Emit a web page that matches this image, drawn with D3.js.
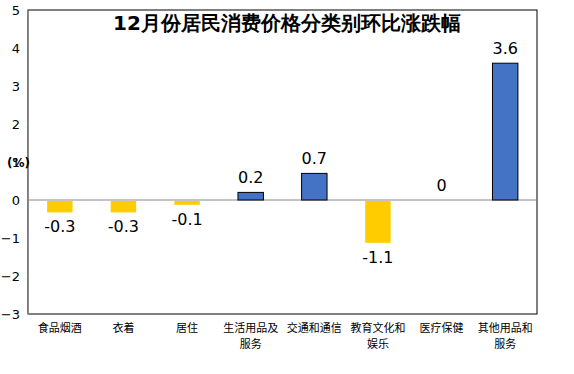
<!DOCTYPE html>
<html lang="zh">
<head>
<meta charset="UTF-8" />
<title>12月份居民消费价格分类别环比涨跌幅</title>
<style>
  body { margin: 0; background: #fff; }
  text { font-family: "DejaVu Sans", sans-serif; }
  .cat text { font-family: "Noto Sans CJK SC", serif; font-size: 11px; fill: #000; }
</style>
</head>
<body>
<div id="chart"></div>
<script src="https://cdn.jsdelivr.net/npm/d3@7/dist/d3.min.js"></script>
<script>
var categories = ["食品烟酒", "衣着", "居住", "生活用品及服务", "交通和通信", "教育文化和娱乐", "医疗保健", "其他用品和服务"];
var catLines = [["食品烟酒"], ["衣着"], ["居住"], ["生活用品及", "服务"], ["交通和通信"], ["教育文化和", "娱乐"], ["医疗保健"], ["其他用品和", "服务"]];
var values = [-0.3, -0.3, -0.1, 0.2, 0.7, -1.1, 0, 3.6];
var yTicks = [-3, -2, -1, 0, 1, 2, 3, 4, 5];

var width = 574, height = 374;
var margin = { top: 10, right: 37, bottom: 60, left: 28 };

var data = categories.map(function(c, i) {
  return { cat: c, lines: catLines[i], value: values[i] };
});

var svg = d3.select("#chart").append("svg")
  .attr("width", width)
  .attr("height", height);

var x = d3.scaleBand()
  .domain(categories)
  .range([margin.left, width - margin.right])
  .paddingInner(0.6)
  .paddingOuter(0.3);

var y = d3.scaleLinear()
  .domain([-3, 5])
  .range([height - margin.bottom, margin.top]);

// frame
svg.append("rect")
  .attr("x", margin.left)
  .attr("y", margin.top)
  .attr("width", width - margin.right - margin.left)
  .attr("height", y(-3) - y(5))
  .attr("fill", "none")
  .attr("stroke", "#000");

// left axis
var gy = svg.append("g")
  .attr("transform", "translate(" + margin.left + ",0)")
  .call(d3.axisLeft(y).tickValues(yTicks).tickSize(0).tickPadding(8));
gy.select(".domain").attr("stroke", "#888");
gy.selectAll("text").attr("font-size", 13).attr("fill", "#000")
  .attr("font-family", "DejaVu Sans, sans-serif");

// zero line
svg.append("line")
  .attr("x1", margin.left)
  .attr("x2", width - margin.right)
  .attr("y1", y(0))
  .attr("y2", y(0))
  .attr("stroke", "#888");

// bars (0 has no bar)
svg.selectAll("rect.bar")
  .data(data.filter(function(d) { return d.value !== 0; }))
  .enter()
  .append("rect")
  .attr("class", "bar")
  .attr("x", function(d) { return x(d.cat); })
  .attr("width", x.bandwidth())
  .attr("y", function(d) { return d.value > 0 ? y(d.value) : y(0) + 1; })
  .attr("height", function(d) { return Math.abs(y(d.value) - y(0)); })
  .attr("fill", function(d) { return d.value > 0 ? "#4472C4" : "#FFCC00"; })
  .attr("stroke", function(d) { return d.value > 0 ? "#000" : "none"; });

// value labels
svg.selectAll("text.val")
  .data(data)
  .enter()
  .append("text")
  .attr("class", "val")
  .attr("x", function(d) { return x(d.cat) + x.bandwidth() / 2; })
  .attr("y", function(d) { return d.value >= 0 ? y(d.value) - 9 : y(d.value) + 21; })
  .attr("text-anchor", "middle")
  .attr("font-size", 16)
  .attr("fill", "#000")
  .text(function(d) { return d.value === 0 ? "0" : d.value.toFixed(1); });

// category labels
var cat = svg.append("g").attr("class", "cat");
data.forEach(function(d) {
  var cx = x(d.cat) + x.bandwidth() / 2;
  var t = cat.append("text")
    .attr("x", cx)
    .attr("y", y(-3) + 18)
    .attr("text-anchor", "middle");
  d.lines.forEach(function(s, j) {
    t.append("tspan").attr("x", cx).attr("dy", j === 0 ? 0 : 16).text(s);
  });
});

// unit
svg.append("text")
  .attr("x", 7)
  .attr("y", y(1) + 5)
  .attr("font-size", 12)
  .attr("font-weight", "bold")
  .text("(%)");

// title
svg.append("text")
  .attr("x", 287)
  .attr("y", 30)
  .attr("text-anchor", "middle")
  .attr("font-size", 20)
  .attr("font-weight", "bold")
  .attr("font-family", "Noto Sans CJK SC, sans-serif")
  .text("12月份居民消费价格分类别环比涨跌幅");
</script>
</body>
</html>
